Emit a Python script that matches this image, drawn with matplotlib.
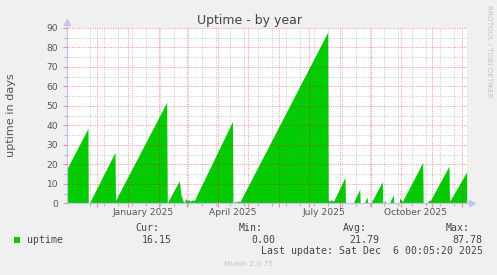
import matplotlib
matplotlib.use("Agg")
import matplotlib.pyplot as plt
import matplotlib.dates as mdates
import matplotlib.transforms as mtransforms
from matplotlib.patches import Rectangle
import pandas as pd

# ---------------- data ----------------
times = [
    "2024-11-01 00:00", "2024-11-22 07:00", "2024-11-22 14:00", "2024-11-23 14:00",
    "2024-12-19 07:00", "2024-12-19 19:00", "2025-02-09 00:00", "2025-02-09 14:00",
    "2025-02-10 07:00", "2025-02-21 14:00", "2025-02-23 07:00", "2025-02-25 14:00",
    "2025-02-26 19:00", "2025-02-28 00:00", "2025-03-01 07:00", "2025-03-02 19:00",
    "2025-03-04 07:00", "2025-03-06 07:00", "2025-03-08 14:00", "2025-04-15 19:00",
    "2025-04-16 07:00", "2025-04-17 07:00", "2025-04-18 07:00", "2025-04-19 19:00",
    "2025-04-21 07:00", "2025-04-23 07:00", "2025-07-20 00:00", "2025-07-20 14:00",
    "2025-07-22 07:00", "2025-07-23 07:00", "2025-07-25 19:00", "2025-08-06 07:00",
    "2025-08-06 19:00", "2025-08-14 07:00", "2025-08-21 00:00", "2025-08-21 12:00",
    "2025-08-25 07:00", "2025-08-28 14:00", "2025-08-29 02:00", "2025-09-01 00:00",
    "2025-09-12 14:00", "2025-09-13 02:00", "2025-09-14 07:00", "2025-09-14 19:00",
    "2025-09-15 14:00", "2025-09-16 02:00", "2025-09-19 14:00", "2025-09-23 14:00",
    "2025-09-24 02:00", "2025-09-29 14:00", "2025-09-29 21:00", "2025-10-01 07:00",
    "2025-10-02 14:00", "2025-10-23 00:00", "2025-10-23 12:00", "2025-10-28 00:00",
    "2025-10-28 07:00", "2025-10-30 14:00", "2025-11-18 07:00", "2025-11-18 19:00",
    "2025-11-19 19:00", "2025-12-06 00:00",
]
uptime_days = [
    17.5, 38.5, 0.0, 0.0,
    26.2, 1.5, 51.8, 0.5,
    0.9, 11.5, 4.3, 0.9,
    0.5, 2.6, 1.2, 2.0,
    1.0, 1.7, 1.5, 42.0,
    0.0, 0.0, 1.2, 0.5,
    1.2, 0.8, 87.78, 1.7,
    1.0, 1.9, 1.0, 13.3,
    0.0, 0.0, 7.2, 0.0,
    0.0, 3.1, 0.0, 0.0,
    11.1, 0.0, 0.0, 1.2,
    1.2, 0.0, 0.0, 4.3,
    0.0, 0.0, 2.6, 2.0,
    0.9, 20.9, 0.0, 0.0,
    1.4, 1.4, 19.1, 1.7,
    1.7, 16.15,
]
x_start = "2024-11-01 00:05"
x_end = "2025-12-06 00:05"
x_label_texts = ["January 2025", "April 2025", "July 2025", "October 2025"]
x_label_dates = ["2025-01-16", "2025-04-16", "2025-07-16", "2025-10-16"]
minor_x_first = "2024-11-24"
y_ticks = list(range(0, 91, 10))
title = "Uptime - by year"
y_label = "uptime in days"
series_name = "uptime"
stat_names = ["Cur:", "Min:", "Avg:", "Max:"]
stat_values = ["16.15", "0.00", "21.79", "87.78"]
last_update = "Last update: Sat Dec  6 00:05:20 2025"
footer = "Munin 2.0.75"
watermark = "RRDTOOL / TOBI OETIKER"

# ---------------- figure ----------------
W, H = 497, 275
BG = "#f0f0f0"
GREEN = "#00cc00"
AXC = "#c4c4f4"
fig = plt.figure(figsize=(W / 100, H / 100), dpi=100, facecolor=BG)

def fx(px):
    return px / W

def fy(py):
    return 1 - py / H

ax = fig.add_axes([fx(66.7), fy(203.3), 400 / W, 175.5 / H])
ax.set_facecolor("white")

t = pd.to_datetime(times)
ax.fill_between(t, 0, uptime_days, color=GREEN, linewidth=0, zorder=1)

ax.set_xlim(pd.Timestamp(x_start), pd.Timestamp(x_end))
ax.set_ylim(0, 90)

# ticks & grid
ax.set_yticks(y_ticks)
ax.set_yticks(range(0, 91, 5), minor=True)
ax.xaxis.set_major_locator(mdates.MonthLocator())
minor_dates = pd.date_range(minor_x_first, x_end, freq="14D")
ax.xaxis.set_minor_locator(matplotlib.ticker.FixedLocator(mdates.date2num(minor_dates)))
ax.set_xticklabels([])
ax.tick_params(axis="x", which="major", length=3, width=0.8, color="#f09090", labelbottom=False)
ax.tick_params(axis="x", which="minor", length=2, width=0.8, color="#b8b8b8")
ax.tick_params(axis="y", which="major", length=3, width=0.8, color="#f09090",
               labelsize=6.6, labelcolor="#555555", pad=3)
ax.tick_params(axis="y", which="minor", length=2, width=0.8, color="#b8b8b8")

ax.set_axisbelow(False)
ax.grid(True, which="major", color="#ff0000", alpha=0.38, linestyle=(0, (1, 1.2)), linewidth=0.75)
ax.grid(True, which="minor", color="#808080", alpha=0.38, linestyle=(0, (1, 1.2)), linewidth=0.75)

for s in ["top", "right"]:
    ax.spines[s].set_visible(False)
for s in ["left", "bottom"]:
    ax.spines[s].set_color(AXC)
    ax.spines[s].set_linewidth(0.9)

# axis arrows
ax.plot([0, 0], [1, 1.035], color=AXC, lw=0.9, transform=ax.transAxes, clip_on=False)
ax.plot([0], [1.035], marker="^", ms=4.5, color=AXC, mec=AXC, transform=ax.transAxes, clip_on=False)
ax.plot([1, 1.012], [0, 0], color=AXC, lw=0.9, transform=ax.transAxes, clip_on=False)
ax.plot([1.012], [0], marker=">", ms=4.5, color=AXC, mec=AXC, transform=ax.transAxes, clip_on=False)

# month labels at mid month
trans = mtransforms.blended_transform_factory(ax.transData, ax.transAxes)
for lab, d in zip(x_label_texts, x_label_dates):
    ax.text(mdates.date2num(pd.Timestamp(d)), -0.028, lab, transform=trans,
            ha="center", va="top", fontsize=6.6, color="#555555")

# texts
fig.text(fx(249.2), fy(24), title, ha="center", va="baseline", fontsize=9, color="#444444")
fig.text(fx(11), fy(115), y_label, ha="center", va="center", rotation=90,
         fontsize=8.1, color="#555555")
fig.text(fx(488.5), fy(5), watermark, ha="center", va="top", rotation=270,
         fontsize=5.2, color="#c4c4c4")

mono = dict(family="DejaVu Sans Mono", fontsize=7.1, color="#444444")
stat_name_right = [159, 262.3, 366.7, 470]
stat_val_right = [171.7, 275, 379, 482.7]
for nm, xr in zip(stat_names, stat_name_right):
    fig.text(fx(xr), fy(231), nm, ha="right", va="baseline", **mono)
for v, xr in zip(stat_values, stat_val_right):
    fig.text(fx(xr), fy(243), v, ha="right", va="baseline", **mono)
fig.patches.append(Rectangle((fx(14), fy(242.7)), 6 / W, 5.4 / H, transform=fig.transFigure,
                             facecolor=GREEN, edgecolor="none"))
fig.text(fx(26.7), fy(243), series_name, ha="left", va="baseline", **mono)
fig.text(fx(482.7), fy(254.3), last_update, ha="right", va="baseline", **mono)
fig.text(fx(248), fy(266.5), footer, ha="center", va="baseline", fontsize=5.4, color="#c4c4c4")

fig.savefig("out.png", dpi=100, facecolor=BG)
